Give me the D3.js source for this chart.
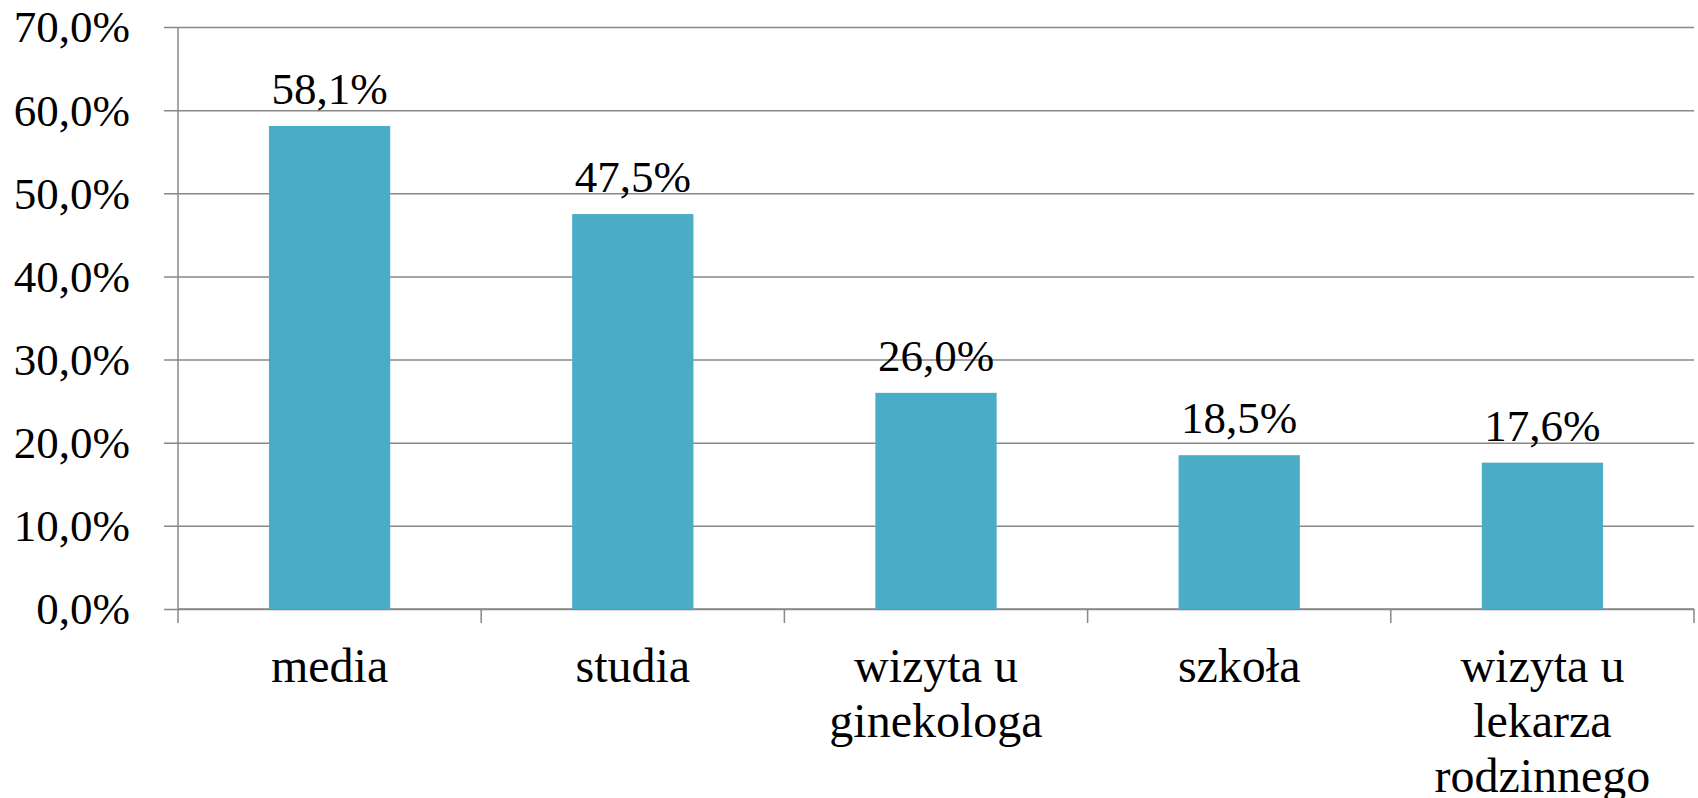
<!DOCTYPE html>
<html>
<head>
<meta charset="utf-8">
<script src="https://cdn.jsdelivr.net/npm/d3@7"></script>
<style>
    body { margin: 0; background: #fff; }
</style>
</head>
<body>
<svg id="chart" width="1698" height="798"></svg>
<script>
'use strict';

let categories = [["media"], ["studia"], ["wizyta u", "ginekologa"], ["szkoła"], ["wizyta u", "lekarza", "rodzinnego"]];
let values = [58.1, 47.5, 26.0, 18.5, 17.6];
let yTicks = [0, 10, 20, 30, 40, 50, 60, 70];

let BAR = "#4BACC6",
    GRID = "#888888",
    FONT = "'Liberation Serif', 'Times New Roman', serif";

let svg = d3.select("#chart"),
    margin = {top: 27, right: 4, bottom: 189, left: 178},
    width = +svg.attr("width") - margin.left - margin.right,
    height = +svg.attr("height") - margin.top - margin.bottom;

let g = svg.append("g").attr("transform", "translate(" + margin.left + "," + margin.top + ")");

let x = d3.scaleBand()
    .domain(d3.range(values.length))
    .range([0, width])
    .padding(0);

let y = d3.scaleLinear()
    .domain([0, 70])
    .range([height, 0]);

let fmt = function(v) { return v.toFixed(1).replace(".", ",") + "%"; };

// gridlines + left ticks
g.append("g")
    .attr("class", "y axis")
    .call(d3.axisLeft(y).tickValues(yTicks).tickSize(-width).tickFormat(fmt).tickPadding(0))
    .call(function(a) {
        a.attr("font-family", null).attr("font-size", null);
        a.select(".domain").remove();
        a.selectAll(".tick line").attr("stroke", GRID).attr("stroke-width", 1.5).attr("x1", -14);
        a.selectAll(".tick text")
            .attr("x", -48).attr("dy", "0.33em")
            .style("font-family", FONT).style("font-size", "45px").style("fill", "#000");
    });

// y axis line
g.append("line")
    .attr("x1", 0).attr("x2", 0)
    .attr("y1", 0).attr("y2", height)
    .attr("stroke", GRID).attr("stroke-width", 1.5);

// x axis with boundary ticks
let bounds = d3.range(values.length + 1).map(function(i) { return i * x.step(); });
g.append("line")
    .attr("x1", 0).attr("x2", width)
    .attr("y1", height).attr("y2", height)
    .attr("stroke", GRID).attr("stroke-width", 1.5);
g.selectAll(".xtick")
    .data(bounds)
    .enter().append("line")
    .attr("class", "xtick")
    .attr("x1", function(d) { return d; }).attr("x2", function(d) { return d; })
    .attr("y1", height).attr("y2", height + 14)
    .attr("stroke", GRID).attr("stroke-width", 1.5);

let barW = x.bandwidth() * 0.4;

g.selectAll(".bar")
    .data(values)
    .enter().append("rect")
    .attr("class", "bar")
    .attr("x", function(d, i) { return x(i) + (x.bandwidth() - barW) / 2; })
    .attr("y", function(d) { return y(d); })
    .attr("width", barW)
    .attr("height", function(d) { return height - y(d); })
    .attr("fill", BAR);

g.selectAll(".val")
    .data(values)
    .enter().append("text")
    .attr("class", "val")
    .attr("x", function(d, i) { return x(i) + x.bandwidth() / 2; })
    .attr("y", function(d) { return y(d) - 22; })
    .attr("text-anchor", "middle")
    .style("font-family", FONT)
    .style("font-size", "45px")
    .text(fmt);

let cat = g.selectAll(".cat")
    .data(categories)
    .enter().append("text")
    .attr("class", "cat")
    .attr("text-anchor", "middle")
    .attr("transform", function(d, i) { return "translate(" + (x(i) + x.bandwidth() / 2) + "," + (height + 73) + ")"; })
    .style("font-family", FONT)
    .style("font-size", "48px");

cat.selectAll("tspan")
    .data(function(d) { return d; })
    .enter().append("tspan")
    .attr("x", 0)
    .attr("y", function(d, i) { return i * 55; })
    .text(function(d) { return d; });
</script>
</body>
</html>
